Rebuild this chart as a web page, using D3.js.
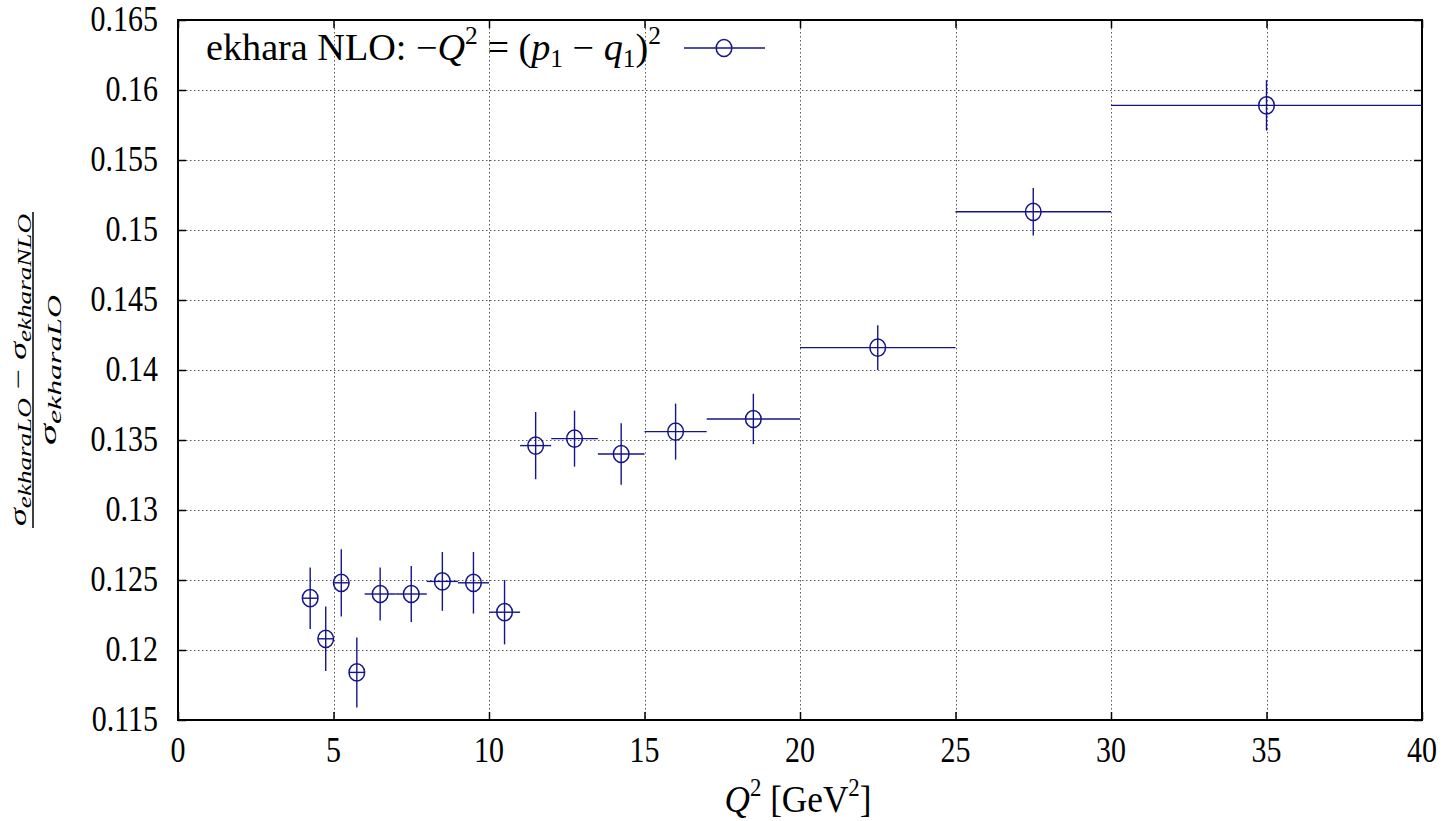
<!DOCTYPE html>
<html>
<head>
<meta charset="utf-8">
<script src="https://cdn.jsdelivr.net/npm/d3@7/dist/d3.min.js"></script>
<style>
  html, body { margin: 0; padding: 0; background: #fff; }
  svg { display: block; }
  text { font-family: "Liberation Serif", "DejaVu Serif", serif; fill: #000; }
</style>
</head>
<body>
<script>
// ---- data ----
const xCenters = [4.25, 4.75, 5.25, 5.75, 6.5, 7.5, 8.5, 9.5, 10.5, 11.5, 12.75, 14.25, 16, 18.5, 22.5, 27.5, 35];
const xLow     = [4, 4.5, 5, 5.5, 6, 7, 8, 9, 10, 11, 12, 13.5, 15, 17, 20, 25, 30];
const xHigh    = [4.5, 5, 5.5, 6, 7, 8, 9, 10, 11, 12, 13.5, 15, 17, 20, 25, 30, 40];
const yValues  = [0.1237, 0.1208, 0.1248, 0.1184, 0.1240, 0.1240, 0.1249, 0.1248, 0.1227,
                  0.1346, 0.1351, 0.1340, 0.1356, 0.1365, 0.1416, 0.1513, 0.1589];
const yErrors  = [0.0022, 0.0023, 0.0024, 0.0025, 0.0019, 0.0020, 0.0021, 0.0022, 0.0023,
                  0.0024, 0.0020, 0.0022, 0.0020, 0.0018, 0.0016, 0.0017, 0.0018];
const xTicks = [0, 5, 10, 15, 20, 25, 30, 35, 40];
const xTickLabels = ["0", "5", "10", "15", "20", "25", "30", "35", "40"];
const yTicks = [0.115, 0.12, 0.125, 0.13, 0.135, 0.14, 0.145, 0.15, 0.155, 0.16, 0.165];
const yTickLabels = ["0.115", "0.12", "0.125", "0.13", "0.135", "0.14", "0.145", "0.15", "0.155", "0.16", "0.165"];

const W = 1443, H = 821;
const L = 178, R = 1422, T = 20, B = 720;
const color = "#14148c";
const SY = 1.18; // vertical stretch of text as in reference
const FONT = "'Liberation Serif', 'DejaVu Serif', serif";

const svg = d3.select("body").append("svg").attr("width", W).attr("height", H)
  .attr("font-family", FONT);

const x = d3.scaleLinear().domain([0, 40]).range([L, R]);
const y = d3.scaleLinear().domain([0.115, 0.165]).range([B, T]);

// grid
const grid = svg.append("g").attr("stroke", "#5a5a5a").attr("stroke-width", 1).attr("stroke-dasharray", "1.5,2.5");
grid.selectAll("line.gx").data(xTicks.slice(1, -1)).join("line")
  .attr("x1", d => Math.round(x(d)) + 0.5).attr("x2", d => Math.round(x(d)) + 0.5)
  .attr("y1", T).attr("y2", B);
grid.selectAll("line.gy").data(yTicks.slice(1, -1)).join("line")
  .attr("y1", d => Math.round(y(d)) + 0.5).attr("y2", d => Math.round(y(d)) + 0.5)
  .attr("x1", L).attr("x2", R);

// axes with inward ticks (mirrored)
const tk = 8;
function axisG(axis, tx, ty) {
  const g = svg.append("g").attr("transform", `translate(${tx},${ty})`).call(axis);
  g.select(".domain").remove();
  g.selectAll("line").attr("stroke", "#000").attr("stroke-width", 1.5);
  g.selectAll("text").remove();
}
axisG(d3.axisBottom(x).tickValues(xTicks).tickSizeInner(-tk).tickSizeOuter(0).tickFormat(""), 0, B);
axisG(d3.axisTop(x).tickValues(xTicks).tickSizeInner(-tk).tickSizeOuter(0).tickFormat(""), 0, T);
axisG(d3.axisLeft(y).tickValues(yTicks).tickSizeInner(-tk).tickSizeOuter(0).tickFormat(""), L, 0);
axisG(d3.axisRight(y).tickValues(yTicks).tickSizeInner(-tk).tickSizeOuter(0).tickFormat(""), R, 0);

// border
svg.append("rect").attr("x", L).attr("y", T).attr("width", R - L).attr("height", B - T)
  .attr("fill", "none").attr("stroke", "#000").attr("stroke-width", 2);

// tick labels
const fs = 30;
svg.append("g").selectAll("g").data(xTicks).join("g")
  .attr("transform", d => `translate(${x(d)},${B + 42}) scale(1,${SY})`)
  .append("text").attr("text-anchor", "middle").attr("font-size", fs).attr("font-family", FONT)
  .text((d, i) => xTickLabels[i]);
svg.append("g").selectAll("g").data(yTicks).join("g")
  .attr("transform", d => `translate(158,${y(d) + 10.5}) scale(1,${SY})`)
  .append("text").attr("text-anchor", "end").attr("font-size", fs).attr("font-family", FONT)
  .text((d, i) => yTickLabels[i]);

// x axis label
const xl = svg.append("g").attr("transform", `translate(798,812) scale(1,1.12)`)
  .append("text").attr("text-anchor", "middle").attr("font-size", 34).attr("font-family", FONT);
xl.append("tspan").attr("font-style", "italic").text("Q");
xl.append("tspan").attr("font-size", 22).attr("dy", -14).text("2");
xl.append("tspan").attr("dy", 14).text(" [GeV");
xl.append("tspan").attr("font-size", 22).attr("dy", -14).text("2");
xl.append("tspan").attr("dy", 14).text("]");
xl.attr("textLength", 147).attr("lengthAdjust", "spacingAndGlyphs");

// y axis label (rotated fraction)
const yl = svg.append("g").attr("transform", "translate(33,370) rotate(-90)");
yl.append("line").attr("x1", -158).attr("x2", 158).attr("y1", 0).attr("y2", 0)
  .attr("stroke", "#000").attr("stroke-width", 1.5);
function sigmaText(yb) {
  return yl.append("text").attr("text-anchor", "middle").attr("y", yb)
    .attr("font-size", 24).attr("font-style", "italic").attr("font-family", FONT);
}
const num = sigmaText(-7);
num.append("tspan").text("σ");
num.append("tspan").attr("font-size", 18).attr("dy", 5).text("ekharaLO");
num.append("tspan").attr("dy", -5).attr("font-style", "normal").text(" − ");
num.append("tspan").text("σ");
num.append("tspan").attr("font-size", 18).attr("dy", 5).text("ekharaNLO");
num.attr("textLength", 312).attr("lengthAdjust", "spacingAndGlyphs");
const den = sigmaText(23);
den.append("tspan").text("σ");
den.append("tspan").attr("font-size", 18).attr("dy", 5).text("ekharaLO");
den.attr("textLength", 150).attr("lengthAdjust", "spacingAndGlyphs");

// data: error bars and markers
const pts = svg.append("g").attr("stroke", color).attr("fill", "none");
const idx = d3.range(xCenters.length);
pts.selectAll("line.h").data(idx).join("line").attr("class", "h")
  .attr("x1", i => x(xLow[i])).attr("x2", i => x(xHigh[i]))
  .attr("y1", i => y(yValues[i])).attr("y2", i => y(yValues[i]))
  .attr("stroke-width", 1.4);
pts.selectAll("line.v").data(idx).join("line").attr("class", "v")
  .attr("x1", i => x(xCenters[i])).attr("x2", i => x(xCenters[i]))
  .attr("y1", i => y(yValues[i] - yErrors[i])).attr("y2", i => y(yValues[i] + yErrors[i]))
  .attr("stroke-width", 1.4);
pts.selectAll("ellipse").data(idx).join("ellipse")
  .attr("cx", i => x(xCenters[i])).attr("cy", i => y(yValues[i]))
  .attr("rx", 7.8).attr("ry", 8.6).attr("stroke-width", 1.5);

// legend
const lg = svg.append("g").attr("transform", `translate(206,60) scale(1,${SY * 0.95})`)
  .append("text").attr("font-size", 33).attr("font-family", FONT);
lg.append("tspan").text("ekhara NLO: −");
lg.append("tspan").attr("font-style", "italic").text("Q");
lg.append("tspan").attr("font-size", 22).attr("dy", -14).text("2");
lg.append("tspan").attr("dy", 14).text(" = (");
lg.append("tspan").attr("font-style", "italic").text("p");
lg.append("tspan").attr("font-size", 22).attr("dy", 6).text("1");
lg.append("tspan").attr("dy", -6).text(" − ");
lg.append("tspan").attr("font-style", "italic").text("q");
lg.append("tspan").attr("font-size", 22).attr("dy", 6).text("1");
lg.append("tspan").attr("dy", -6).text(")");
lg.append("tspan").attr("font-size", 22).attr("dy", -14).text("2");
lg.attr("textLength", 455).attr("lengthAdjust", "spacingAndGlyphs");

svg.append("line").attr("x1", 684).attr("x2", 765).attr("y1", 48).attr("y2", 48)
  .attr("stroke", color).attr("stroke-width", 1.4);
svg.append("ellipse").attr("cx", 724).attr("cy", 48).attr("rx", 7.8).attr("ry", 8.6)
  .attr("fill", "none").attr("stroke", color).attr("stroke-width", 1.5);
</script>
</body>
</html>
